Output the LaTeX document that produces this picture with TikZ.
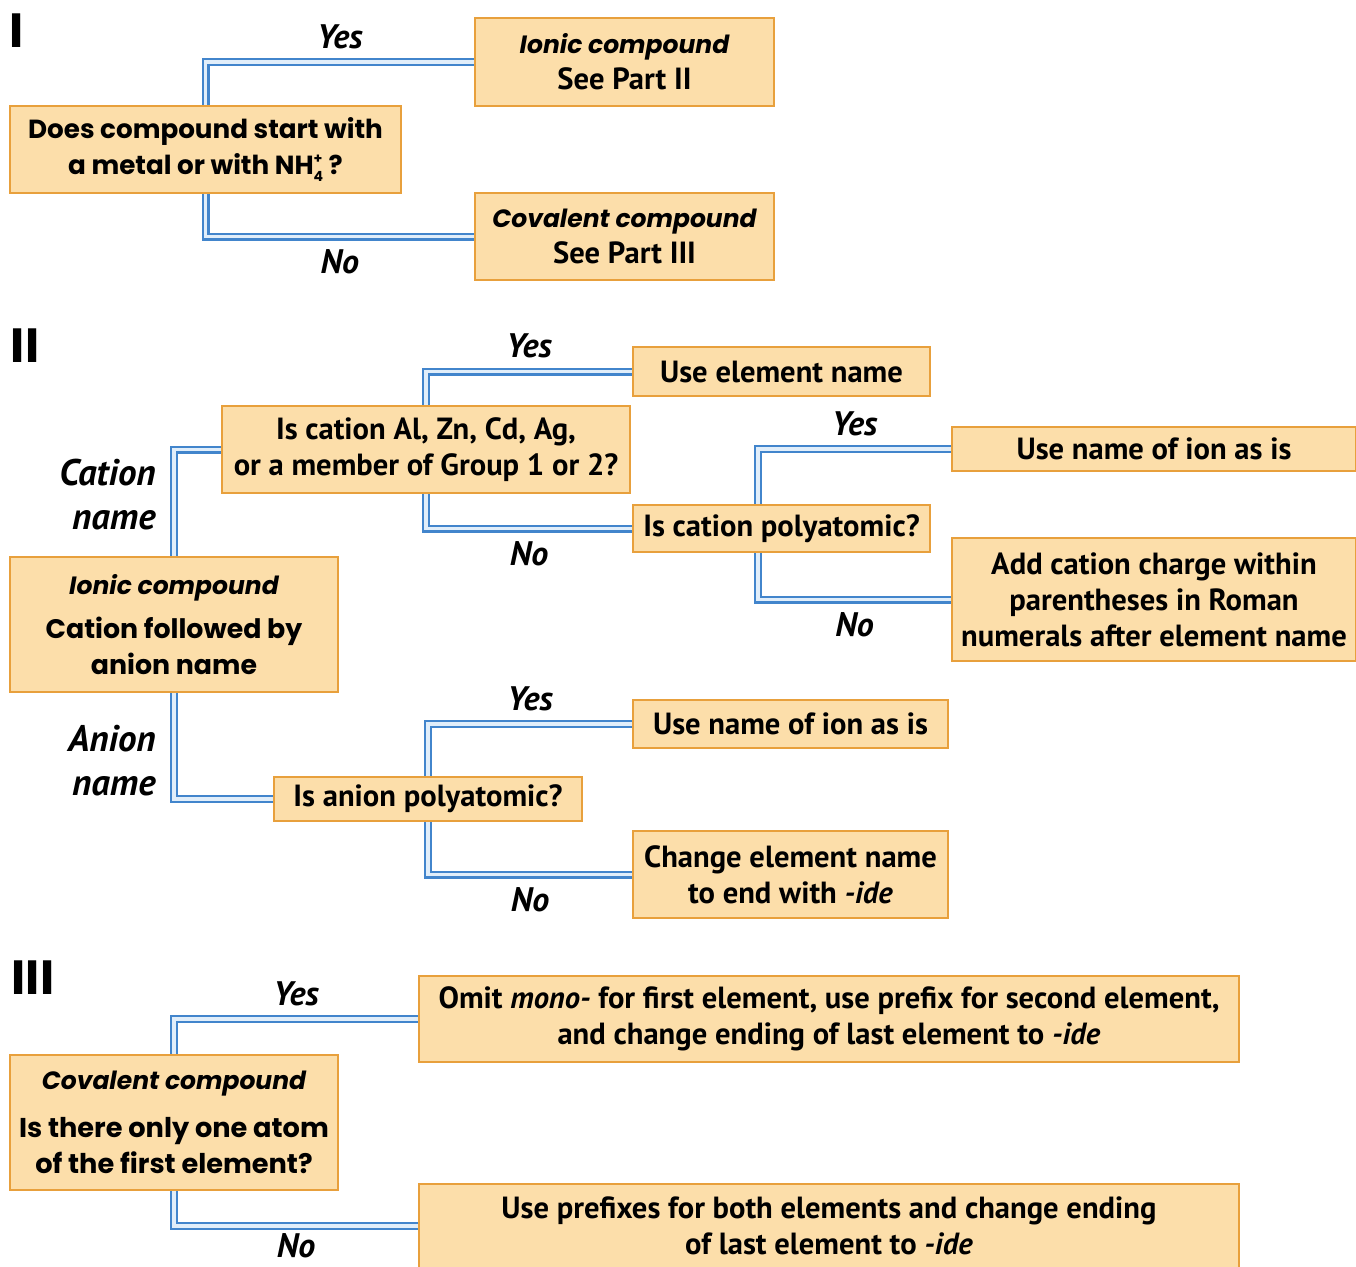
\documentclass[tikz,border=0pt]{standalone}
\usepackage{fontspec}
\setmainfont{PT Sans}
\newfontfamily\heavy{Poppins}
\usetikzlibrary{positioning,backgrounds}
\definecolor{boxfill}{RGB}{252,222,170}
\definecolor{boxline}{RGB}{232,160,60}
\definecolor{pipeblue}{RGB}{66,133,204}
\definecolor{pipelight}{RGB}{225,238,250}
\newcommand{\ammon}{NH\makebox[0pt][l]{\raisebox{0.75ex}{\scriptsize +}}\raisebox{-0.45ex}{\scriptsize 4}}

\begin{document}
\begin{tikzpicture}[x=0.5pt, y=-0.5pt,
    box/.style={draw=boxline, fill=boxfill, line width=0.9pt, align=center, inner sep=0pt,
      font=\fontsize{15.3}{18}\selectfont\bfseries},
    hbox/.style={box, font=\heavy\fontsize{13.4}{18}\selectfont\bfseries},
    pipe/.style={draw=pipeblue, double=pipelight, line width=1.2pt, double distance=1.6pt},
    lab/.style={font=\fontsize{17}{18}\selectfont\bfseries\itshape, inner sep=0pt},
    side/.style={lab, align=right, font=\fontsize{18.5}{22}\selectfont\bfseries\itshape},
    part/.style={font=\heavy\fontsize{24}{24}\selectfont\bfseries, inner sep=0pt}]
\useasboundingbox (0,0) rectangle (1356,1266);

% Part I
\node[part] (p1) at (17,31) {I};
\node[hbox, minimum width=195.5pt, minimum height=43.5pt] (q1) at (205.5,149.5)
  {{\fontsize{13.1}{18}\selectfont Does compound start with}\\
   {\fontsize{13.1}{18}\selectfont a metal or with \ammon\ ?}};
\node[box, minimum width=149.5pt, minimum height=44pt] (ionic1) at (624.5,62)
  {{\heavy\itshape\fontsize{12.5}{18}\selectfont Ionic compound}\\ See Part II};
\node[box, minimum width=149.5pt, minimum height=43.5pt] (cov1) at (624.5,236.5)
  {{\heavy\itshape\fontsize{12.5}{18}\selectfont Covalent compound}\\ See Part III};

% Part II
\node[part] (p2) at (25,346) {II};
\node[hbox, minimum width=164pt, minimum height=67.5pt] (ionic2) at (174,624.5)
  {{\itshape\fontsize{12.5}{18}\selectfont Ionic compound}\\[4pt] Cation followed by\\ anion name};
\node[box, minimum width=204pt, minimum height=43.5pt] (q2) at (426,449.5)
  {Is cation Al, Zn, Cd, Ag,\\ or a member of Group 1 or 2?};
\node[box, minimum width=148.5pt, minimum height=24.5pt] (elem) at (781.5,371.5) {Use element name};
\node[box, minimum width=148.5pt, minimum height=23.5pt] (poly) at (781.5,528.5) {Is cation polyatomic?};
\node[box, minimum width=202pt, minimum height=22pt] (ion1) at (1154,449) {Use name of ion as is};
\node[box, minimum width=202pt, minimum height=61.5pt] (charge) at (1154,599.5)
  {Add cation charge within\\ parentheses in Roman\\ numerals after element name};
\node[box, minimum width=154pt, minimum height=22pt] (q4) at (428,799) {Is anion polyatomic?};
\node[box, minimum width=157.5pt, minimum height=24pt] (ion2) at (790.5,724) {Use name of ion as is};
\node[box, minimum width=157.5pt, minimum height=43.5pt] (change) at (790.5,874.5)
  {Change element name\\ to end with \textit{-ide}};
\node[side, anchor=east] (catname) at (156,495) {Cation\\ name};
\node[side, anchor=east] (anname) at (156,761) {Anion\\ name};
\coordinate (pj) at (758,528.5);

% Part III
\node[part] (p3) at (33,978) {III};
\node[hbox, minimum width=164pt, minimum height=67.5pt] (cov3) at (174,1122.5)
  {{\itshape\fontsize{12.5}{18}\selectfont Covalent compound}\\[6pt]
   {\fontsize{13.6}{18}\selectfont Is there only one atom}\\ {\fontsize{13.6}{18}\selectfont of the first element?}};
\node[box, minimum width=410pt, minimum height=43pt] (omit) at (829,1019)
  {Omit \textit{mono-} for first element, use prefix for second element,\\ and change ending of last element to \textit{-ide}};
\node[box, minimum width=410pt, minimum height=42pt, text depth=0pt] (prefix) at (829,1226)
  {Use prefixes for both elements and change ending\\ of last element to \textit{-ide}};

\begin{scope}[on background layer]
\draw[pipe] (ionic1.west) -| node[pos=.25, lab, above=6pt] (y1) {Yes} (q1.center)
  |- node[pos=.75, lab, below=6pt] (n1) {No} (cov1.west);
\draw[pipe] (q2.west) -| (ionic2.center) |- (q4.west);
\draw[pipe] (elem.west) -| node[pos=.25, lab, above=6pt] (y2) {Yes} (q2.center)
  |- node[pos=.75, lab, below=6pt] (n2) {No} (poly.west);
\draw[pipe] (ion1.west) -| node[pos=.25, lab, above=6pt] (y3) {Yes} (pj)
  |- node[pos=.75, lab, below=6pt] (n3) {No} (charge.west);
\draw[pipe] (ion2.west) -| node[pos=.25, lab, above=6pt] (y4) {Yes} (q4.center)
  |- node[pos=.75, lab, below=6pt] (n4) {No} (change.west);
\draw[pipe] (omit.west) -| node[pos=.25, lab, above=6pt] (y5) {Yes} (cov3.center)
  |- node[pos=.75, lab, below=3pt] (n5) {No} (prefix.west);
\end{scope}
\end{tikzpicture}
\end{document}
